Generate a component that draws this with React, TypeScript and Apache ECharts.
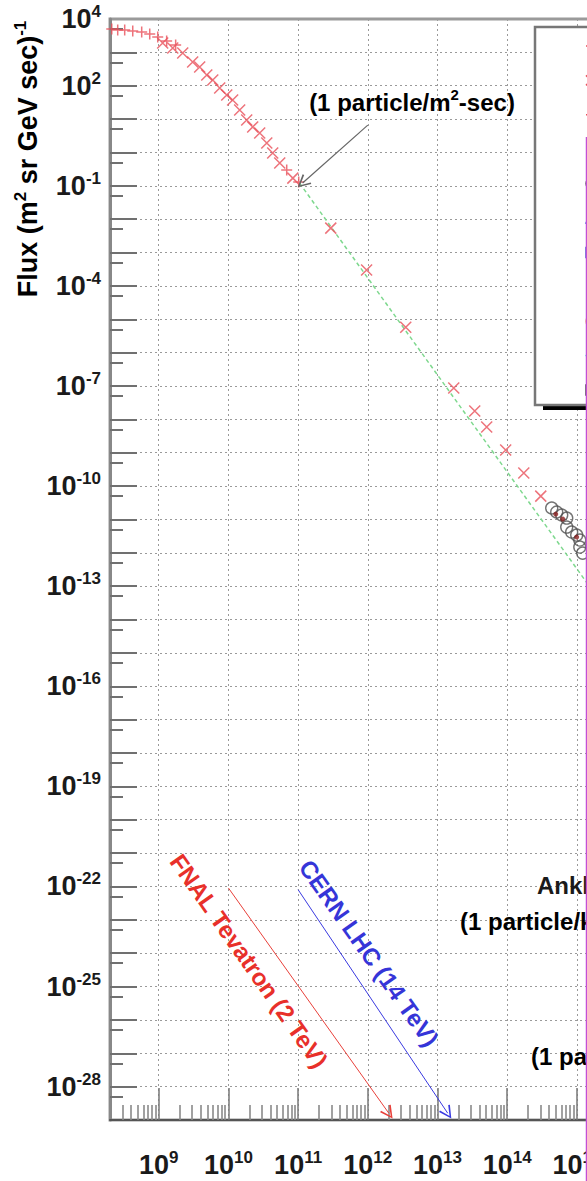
import { useEffect, useRef } from 'react';
import * as echarts from 'echarts';

// Energies in eV, flux in (m^2 sr GeV sec)^-1
const leapEnergy = [2.12e8, 2.58e8, 3.25e8, 4.24e8, 5.7e8, 7.43e8, 9.68e8, 1.3e9, 1.75e9, 6.86e10, 1.02e11];
const leapFlux = [5.0e3, 4.68e3, 4.68e3, 4.36e3, 4.07e3, 3.55e3, 2.88e3, 2.19e3, 1.66e3, 0.298, 0.13];

const protonEnergy = [
  1.14e9, 1.59e9, 2.21e9, 3.07e9, 3.87e9, 4.89e9, 5.96e9, 7.5e9, 9.46e9, 1.15e10, 1.45e10, 1.83e10,
  2.23e10, 2.81e10, 3.55e10, 4.32e10, 5.45e10, 8.4e10, 2.94e11, 9.6e11, 3.5e12, 1.71e13, 3.42e13,
  5.08e13, 9.5e13, 1.73e14, 3.03e14,
];
const protonFlux = [
  1.91e3, 1.35e3, 957, 514, 364, 209, 148, 85.5, 52.7, 37.3, 18.7, 9.4, 5.8, 3.83, 1.92, 0.96, 0.48,
  0.17, 5.4e-3, 3.0e-4, 5.8e-6, 8.7e-8, 1.77e-8, 5.9e-9, 1.2e-9, 2.46e-10, 5.0e-11,
];

const groundEnergy = [4.35e14, 5.13e14, 6.05e14, 7.14e14, 7.14e14, 8.41e14, 9.93e14, 1.1e15, 1.1e15, 1.21e15];
const groundFlux = [2.2e-11, 1.67e-11, 1.36e-11, 1.1e-11, 5.9e-12, 4.19e-12, 3.4e-12, 2.41e-12, 1.49e-12, 9.8e-13];

const tibetEnergy = [4.97e14, 6.25e14, 9.93e14];
const tibetFlux = [1.45e-11, 1.03e-11, 2.96e-12];

const powerLawEnergy = [1.05e11, 1e16];
const powerLawFlux = [0.12, 4.1e-16];

// Annotation arrows (tail -> head)
const rateArrowEnergy = [1e12, 1.16e11];
const rateArrowFlux = [6.6, 0.121];
const tevatronEnergy = [1e10, 2e12];
const tevatronFlux = [9e-23, 1.6e-29];
const lhcEnergy = [1e11, 1.4e13];
const lhcFlux = [8e-23, 1.6e-29];

// Axis extents and labelled decades
const E_MIN = 2e8;
const E_MAX = 1e21;
const F_MIN = 1e-29;
const F_MAX = 1e4;
const xLabelDecades = [9, 10, 11, 12, 13, 14, 15];
const yLabelDecades = [4, 2, -1, -4, -7, -10, -13, -16, -19, -22, -25, -28];

const FONT = '"Liberation Sans", Arial, Helvetica, sans-serif';
const lg = Math.log10;
const pts = (e: number[], f: number[]) => e.map((v, i) => [lg(v), lg(f[i])]);
const range = (a: number, b: number) => {
  const r: number[] = [];
  for (let i = a; i <= b; i++) r.push(i);
  return r;
};

const X_MIN = lg(E_MIN);
const X_MAX = lg(E_MAX);
const Y_MIN = lg(F_MIN);
const Y_MAX = lg(F_MAX);
const PX_PER_DECADE_X = 69.7;

const xMajor = range(9, 20);
const xMinor = range(8, 20)
  .flatMap((n) => [2, 3, 4, 5, 6, 7, 8, 9].map((k) => n + lg(k)))
  .filter((v) => v > X_MIN && v < X_MAX);
const yMajor = range(-28, 3);
const yMinor = range(-29, 3).map((n) => n + lg(5));

const RED = '#e8505a';
const GRID_LINE = { color: '#9a9a9a', type: [2, 3], width: 1 };
const plusPath = 'path://M5,0L5,10M0,5L10,5';
const crossPath = 'path://M0,0L10,10M10,0L0,10';
const chevron = 'path://M0,10L5,0L10,10L8.8,10.6L5,2.6L1.2,10.6Z';

const tickRich = {
  b: { fontSize: 27, fontWeight: 'bold', fontFamily: FONT, color: '#1a1a1a', lineHeight: 32 },
  s: { fontSize: 17, fontWeight: 'bold', fontFamily: FONT, color: '#1a1a1a', verticalAlign: 'top', lineHeight: 18 },
};
const powerLabel = (v: number) => `{b|10}{s|${Math.round(v)}}`;

const annRich = (color: string, size: number) => ({
  a: { fontSize: size, fontWeight: 'bold', fontFamily: FONT, color, lineHeight: size + 6 },
  s: { fontSize: Math.round(size * 0.62), fontWeight: 'bold', fontFamily: FONT, color, verticalAlign: 'top', lineHeight: Math.round(size * 0.65) },
});

function legendMarker(kind: string, cx: number, cy: number, color: string) {
  const st = { stroke: color, lineWidth: 1.5, fill: 'none' };
  const r = 5;
  switch (kind) {
    case 'plus':
      return [
        { type: 'line', shape: { x1: cx - r, y1: cy, x2: cx + r, y2: cy }, style: st },
        { type: 'line', shape: { x1: cx, y1: cy - r, x2: cx, y2: cy + r }, style: st },
      ];
    case 'cross':
      return [
        { type: 'line', shape: { x1: cx - r, y1: cy - r, x2: cx + r, y2: cy + r }, style: st },
        { type: 'line', shape: { x1: cx - r, y1: cy + r, x2: cx + r, y2: cy - r }, style: st },
      ];
    case 'star':
      return [
        { type: 'line', shape: { x1: cx - r, y1: cy, x2: cx + r, y2: cy }, style: st },
        { type: 'line', shape: { x1: cx - 3, y1: cy - 4, x2: cx + 3, y2: cy + 4 }, style: st },
        { type: 'line', shape: { x1: cx - 3, y1: cy + 4, x2: cx + 3, y2: cy - 4 }, style: st },
      ];
    case 'dot':
      return [{ type: 'circle', shape: { cx, cy, r: 4 }, style: { fill: color } }];
    case 'circle':
      return [{ type: 'circle', shape: { cx, cy, r }, style: st }];
    case 'triangle':
      return [{ type: 'polygon', shape: { points: [[cx, cy - r], [cx + r, cy + r], [cx - r, cy + r]] }, style: st }];
    case 'diamond':
      return [{ type: 'polygon', shape: { points: [[cx, cy - r], [cx + r, cy], [cx, cy + r], [cx - r, cy]] }, style: st }];
    default:
      return [{ type: 'rect', shape: { x: cx - r, y: cy - r, width: 2 * r, height: 2 * r }, style: st }];
  }
}

const legendKinds = ['plus', 'cross', 'star', 'dot', 'circle', 'triangle', 'square', 'plus', 'circle', 'diamond', 'square'];
const legendColors = [RED, RED, RED, '#333333', '#555555', '#5a6ee0', '#4a5ad0', '#e060e0', '#f0a080', '#80e0e8', '#444444'];

function buildOption() {
  const gridLeft = 110;
  const gridTop = 19;
  const gridWidth = (X_MAX - X_MIN) * PX_PER_DECADE_X;
  const gridHeight = 1101;

  const legendItems = legendKinds.flatMap((k, i) => legendMarker(k, 591, 46 + i * 34.4, legendColors[i]));

  const graphic: any[] = [
    // y-axis title
    {
      type: 'text',
      x: 28,
      y: 159,
      rotation: Math.PI / 2,
      z: 100,
      style: {
        text: '{a|Flux (m}{s|2}{a| sr GeV sec)}{s|-1}',
        rich: annRich('#1a1a1a', 27),
        align: 'center',
        verticalAlign: 'middle',
      },
    },
    // legend frame with drop shadow
    { type: 'rect', z: 100, shape: { x: 543, y: 404, width: 120, height: 6 }, style: { fill: '#000' } },
    { type: 'rect', z: 101, shape: { x: 535, y: 27, width: 120, height: 378 }, style: { fill: '#fff', stroke: '#777', lineWidth: 2.5 } },
    ...legendItems.map((e: any) => ({ ...e, z: 102 })),
    {
      type: 'text',
      x: 412,
      y: 102,
      z: 100,
      style: { text: '{a|(1 particle/m}{s|2}{a|-sec)}', rich: annRich('#1a1a1a', 24), align: 'center', verticalAlign: 'middle' },
    },
    {
      type: 'text',
      x: 249,
      y: 961,
      rotation: -Math.atan2(223, 157),
      z: 100,
      style: { text: 'FNAL Tevatron (2 TeV)', font: `bold 24px ${FONT}`, fill: '#e8302a', align: 'center', verticalAlign: 'middle' },
    },
    {
      type: 'text',
      x: 369,
      y: 953,
      rotation: -Math.atan2(193, 137),
      z: 100,
      style: { text: 'CERN LHC (14 TeV)', font: `bold 24px ${FONT}`, fill: '#3535d8', align: 'center', verticalAlign: 'middle' },
    },
    {
      type: 'text',
      x: 537,
      y: 885,
      z: 100,
      style: { text: 'Ankle', font: `bold 24px ${FONT}`, fill: '#1a1a1a', align: 'left', verticalAlign: 'middle' },
    },
    {
      type: 'text',
      x: 460,
      y: 921,
      z: 100,
      style: { text: '{a|(1 particle/km}{s|2}{a|-year)}', rich: annRich('#1a1a1a', 24), align: 'left', verticalAlign: 'middle' },
    },
    {
      type: 'text',
      x: 531,
      y: 1056,
      z: 100,
      style: { text: '{a|(1 particle/km}{s|2}{a|-century)}', rich: annRich('#1a1a1a', 24), align: 'left', verticalAlign: 'middle' },
    },
    { type: 'line', z: 200, shape: { x1: 586.5, y1: 137, x2: 586.5, y2: 1181 }, style: { stroke: '#c24fd6', lineWidth: 1.5 } },
  ];

  const axisCommon = { min: X_MIN, max: X_MAX, type: 'value' as const, position: 'bottom' as const, gridIndex: 0 };
  const yCommon = { min: Y_MIN, max: Y_MAX, interval: 1, type: 'value' as const, position: 'left' as const, gridIndex: 0 };

  return {
    animation: false,
    backgroundColor: '#fff',
    grid: {
      left: gridLeft,
      top: gridTop,
      width: gridWidth,
      height: gridHeight,
      containLabel: false,
      outerBoundsMode: 'none',
      show: true,
      borderColor: '#9a9a9a',
      borderWidth: 3,
      backgroundColor: 'transparent',
    },
    xAxis: [
      {
        ...axisCommon,
        axisLine: { show: true, onZero: false, lineStyle: { color: '#555', width: 2 } },
        axisTick: { show: true, inside: true, length: 32, customValues: xMajor, lineStyle: { color: '#777', width: 1.5 } },
        axisLabel: {
          show: true,
          customValues: xLabelDecades,
          formatter: powerLabel,
          rich: tickRich,
          margin: 29,
        },
        splitLine: { show: true, lineStyle: GRID_LINE },
      },
      {
        ...axisCommon,
        offset: 0,
        axisLine: { show: false, onZero: false },
        axisTick: { show: true, inside: true, length: 15, customValues: xMinor, lineStyle: { color: '#8a8a8a', width: 1.6 } },
        axisLabel: { show: false },
        splitLine: { show: false },
      },
    ],
    yAxis: [
      {
        ...yCommon,
        axisLine: { show: true, onZero: false, lineStyle: { color: '#888', width: 3 } },
        axisTick: { show: true, inside: true, length: 27, customValues: yMajor, lineStyle: { color: '#707070', width: 2 } },
        axisLabel: {
          show: true,
          customValues: yLabelDecades,
          formatter: powerLabel,
          rich: tickRich,
          margin: 9,
        },
        splitLine: { show: true, lineStyle: GRID_LINE },
      },
      {
        ...yCommon,
        offset: 0,
        axisLine: { show: false, onZero: false },
        axisTick: { show: true, inside: true, length: 13, customValues: yMinor, lineStyle: { color: '#707070', width: 2 } },
        axisLabel: { show: false },
        splitLine: { show: false },
      },
    ],
    series: [
      {
        name: 'Power law',
        type: 'line',
        data: pts(powerLawEnergy, powerLawFlux),
        showSymbol: false,
        lineStyle: { color: '#7ed88e', width: 1.5, type: [4, 3] },
        z: 3,
      },
      {
        name: 'LEAP - satellite',
        type: 'scatter',
        data: pts(leapEnergy, leapFlux),
        symbol: plusPath,
        symbolSize: 11,
        itemStyle: { color: 'transparent', borderColor: RED, borderWidth: 1.5 },
        z: 5,
      },
      {
        name: 'Proton - satellite',
        type: 'scatter',
        data: pts(protonEnergy, protonFlux),
        symbol: crossPath,
        symbolSize: 11,
        itemStyle: { color: 'transparent', borderColor: RED, borderWidth: 1.5 },
        z: 5,
      },
      {
        name: 'Ground array',
        type: 'scatter',
        data: pts(groundEnergy, groundFlux),
        symbol: 'circle',
        symbolSize: 12,
        itemStyle: { color: 'transparent', borderColor: '#505050', borderWidth: 1.4 },
        z: 5,
      },
      {
        name: 'Tibet',
        type: 'scatter',
        data: pts(tibetEnergy, tibetFlux),
        symbol: 'circle',
        symbolSize: 5,
        itemStyle: { color: '#8b2020' },
        z: 6,
      },
      {
        name: 'arrows',
        type: 'lines',
        coordinateSystem: 'cartesian2d',
        symbol: ['none', chevron],
        symbolSize: [10, 13],
        z: 7,
        data: [
          { coords: pts(rateArrowEnergy, rateArrowFlux), lineStyle: { color: '#666', width: 1.2 } },
          { coords: pts(tevatronEnergy, tevatronFlux), lineStyle: { color: '#e8403a', width: 1 } },
          { coords: pts(lhcEnergy, lhcFlux), lineStyle: { color: '#3a3ae0', width: 1 } },
        ],
        lineStyle: { opacity: 1 },
      },
    ],
    graphic,
  };
}

export default function App() {
  const ref = useRef<HTMLDivElement>(null);
  useEffect(() => {
    if (!ref.current) return;
    const chart = echarts.init(ref.current, undefined, { renderer: 'svg' });
    chart.setOption(buildOption() as any);
    return () => chart.dispose();
  }, []);
  return (
    <div style={{ position: 'fixed', left: 0, top: 0, width: '100vw', height: '100vh', overflow: 'hidden', background: '#fff' }}>
      <div ref={ref} style={{ width: 1000, height: 1181 }} />
    </div>
  );
}
